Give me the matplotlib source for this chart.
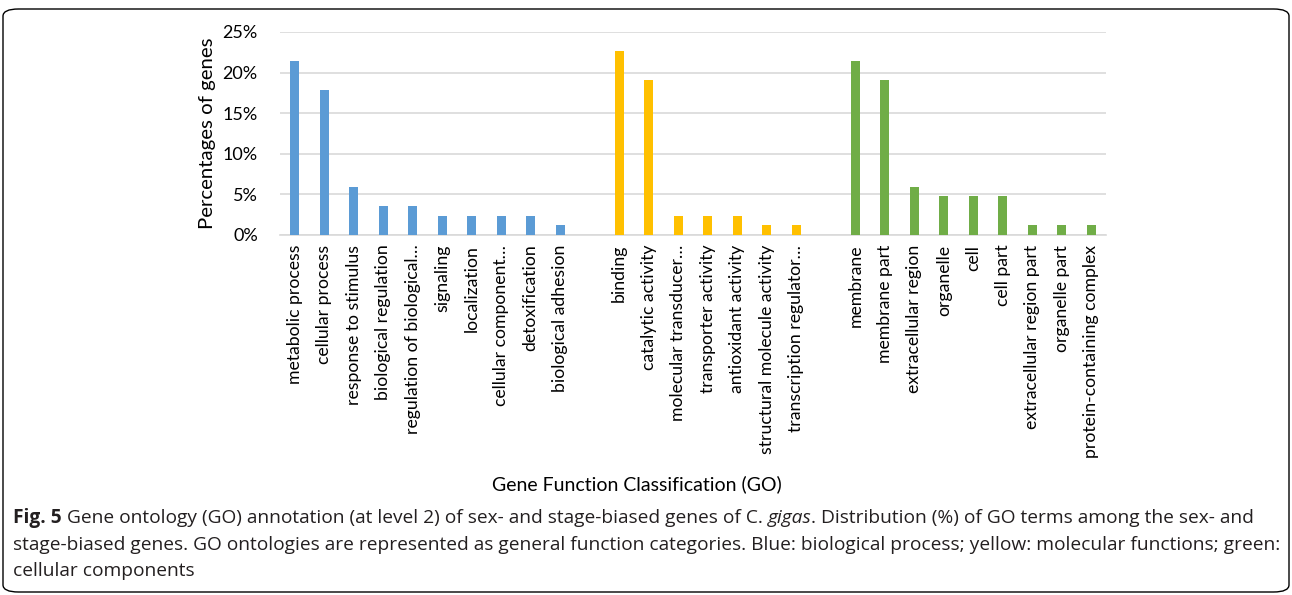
import matplotlib
matplotlib.use("Agg")
import matplotlib.pyplot as plt
from matplotlib.patches import FancyBboxPatch
from matplotlib.ticker import PercentFormatter

plt.rcParams['font.family'] = ['Lato', 'DejaVu Sans']

bio_labels = ["metabolic process", "cellular process", "response to stimulus",
              "biological regulation", "regulation of biological\u2026", "signaling",
              "localization", "cellular component\u2026", "detoxification",
              "biological adhesion"]
bio_values = [21.4, 17.9, 5.95, 3.57, 3.57, 2.38, 2.38, 2.38, 2.38, 1.19]

mol_labels = ["binding", "catalytic activity", "molecular transducer\u2026",
              "transporter activity", "antioxidant activity",
              "structural molecule activity", "transcription regulator\u2026"]
mol_values = [22.7, 19.1, 2.38, 2.38, 2.38, 1.19, 1.19]

cel_labels = ["membrane", "membrane part", "extracellular region", "organelle",
              "cell", "cell part", "extracellular region part", "organelle part",
              "protein-containing complex"]
cel_values = [21.4, 19.1, 5.95, 4.76, 4.76, 4.76, 1.19, 1.19, 1.19]

groups = [(bio_labels, bio_values, "#5B9BD5"),
          (mol_labels, mol_values, "#FFC000"),
          (cel_labels, cel_values, "#70AD47")]

caption_lines = [
    [("Fig. 5", "bold", "normal"),
     (" Gene ontology (GO) annotation (at level 2) of sex- and stage-biased genes of C. ", "normal", "normal"),
     ("gigas", "normal", "italic"),
     (". Distribution (%) of GO terms among the sex- and", "normal", "normal")],
    [("stage-biased genes. GO ontologies are represented as general function categories. "
      "Blue: biological process; yellow: molecular functions; green:", "normal", "normal")],
    [("cellular components", "normal", "normal")],
]

W, H = 1292, 595
fig = plt.figure(figsize=(W / 100, H / 100), dpi=100)
ax = fig.add_axes([280 / W, 1 - 235 / H, (1106 - 280) / W, (235 - 32) / H])

pos = 0
ticks, labels = [], []
for names, vals, color in groups:
    xs = list(range(pos, pos + len(vals)))
    ax.bar(xs, vals, width=0.3, color=color, zorder=3)
    ticks += xs
    labels += names
    pos += len(vals) + 1

ax.set_xlim(-0.5, pos - 1.5)
ax.set_ylim(0, 25)
ax.set_yticks([0, 5, 10, 15, 20, 25])
ax.yaxis.set_major_formatter(PercentFormatter(decimals=0))
ax.set_xticks(ticks)
ax.set_xticklabels(labels, rotation=90, fontsize=12.7, color="#000000")
ax.tick_params(axis="x", length=0, pad=7)
ax.tick_params(axis="y", length=0, pad=16, labelsize=13, labelcolor="#000000")
ax.grid(axis="y", color="#D9D9D9", linewidth=1.2, zorder=0)
for s in ["top", "right", "left"]:
    ax.spines[s].set_visible(False)
ax.spines["bottom"].set_color("#D9D9D9")
ax.spines["bottom"].set_linewidth(1.2)

ax.set_ylabel("Percentages of genes", fontsize=14.7, labelpad=5)
fig.text(637 / W, 1 - 484 / H, "Gene Function Classification (GO)",
         ha="center", va="center", fontsize=14)

# frame around the figure
frame = FancyBboxPatch((3 / W, 3 / H), (W - 6) / W, (H - 12) / H,
                       boxstyle="round,pad=0,rounding_size=0.012",
                       transform=fig.transFigure, fill=False,
                       edgecolor="#000000", linewidth=1.0)
fig.patches.append(frame)

# caption, drawn piece by piece; size chosen so line 1 spans the reference width
renderer = fig.canvas.get_renderer()
cap_font = ['Open Sans', 'DejaVu Sans']


def line_width(parts, size):
    total = 0
    for text, weight, style in parts:
        t = fig.text(0, 0, text, fontsize=size, fontweight=weight,
                     fontstyle=style, family=cap_font)
        total += t.get_window_extent(renderer=renderer).width
        t.remove()
    return total


cap_size = 12.0 * (1250 - 13) / line_width(caption_lines[0], 12.0)

for row, parts in zip([518, 545, 571], caption_lines):
    x = 13
    for text, weight, style in parts:
        t = fig.text(x / W, 1 - row / H, text, ha="left", va="center",
                     fontsize=cap_size, fontweight=weight, fontstyle=style,
                     family=cap_font, color="#231F20")
        x += t.get_window_extent(renderer=renderer).width

fig.savefig("out.png", dpi=100)
